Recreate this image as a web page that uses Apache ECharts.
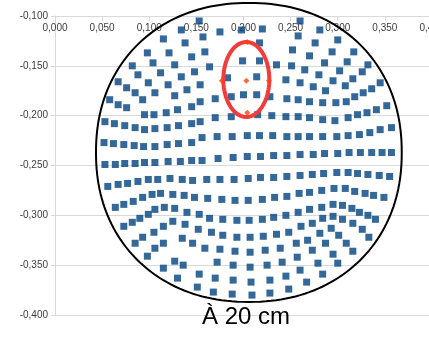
<!DOCTYPE html>
<html>
<head>
<meta charset="utf-8">
<script src="https://cdn.jsdelivr.net/npm/echarts@6/dist/echarts.min.js"></script>
<style>
html, body { margin: 0; padding: 0; background: #fff; }
#chart { width: 429px; height: 341px; }
</style>
</head>
<body>
<div id="chart"></div>
<script>
// axis ranges [min, max, step]
const xRange = [0, 0.4, 0.05];
const yRange = [-0.4, -0.1, 0.05];

const spotsTop = [
  [0.173, -0.099], [0.241, -0.099], [0.153, -0.105], [0.260, -0.105],
  [0.134, -0.114], [0.175, -0.116], [0.198, -0.114], [0.220, -0.113], [0.281, -0.114],
  [0.157, -0.121], [0.258, -0.120], [0.115, -0.123], [0.300, -0.124],
  [0.138, -0.127], [0.217, -0.127], [0.276, -0.127],
  [0.098, -0.137], [0.121, -0.137], [0.159, -0.136], [0.252, -0.134], [0.294, -0.136], [0.317, -0.136],
  [0.145, -0.141], [0.270, -0.140]
];
const spotsUpper = [
  [0.082, -0.150], [0.104, -0.147], [0.127, -0.149], [0.148, -0.156],
  [0.067, -0.166], [0.088, -0.159], [0.112, -0.157], [0.134, -0.161],
  [0.099, -0.167], [0.120, -0.169], [0.140, -0.174], [0.154, -0.169],
  [0.076, -0.172], [0.085, -0.177], [0.106, -0.177],
  [0.164, -0.151], [0.199, -0.145], [0.217, -0.145], [0.235, -0.149], [0.251, -0.150],
  [0.183, -0.162], [0.214, -0.161], [0.245, -0.164], [0.260, -0.167],
  [0.286, -0.147], [0.310, -0.146], [0.332, -0.149],
  [0.265, -0.154], [0.280, -0.159], [0.302, -0.155], [0.326, -0.156],
  [0.274, -0.171], [0.295, -0.165], [0.316, -0.163], [0.345, -0.167],
  [0.287, -0.175], [0.308, -0.170]
];
const spotsMidUpper = [
  [0.093, -0.184], [0.127, -0.180],
  [0.058, -0.184], [0.067, -0.189], [0.076, -0.192], [0.095, -0.199], [0.105, -0.199],
  [0.118, -0.197], [0.130, -0.194], [0.145, -0.191],
  [0.053, -0.206], [0.063, -0.208], [0.074, -0.210], [0.085, -0.212], [0.095, -0.214],
  [0.106, -0.213], [0.119, -0.212], [0.131, -0.210], [0.145, -0.208],
  [0.052, -0.227], [0.062, -0.228], [0.073, -0.229], [0.084, -0.230], [0.094, -0.231],
  [0.106, -0.231], [0.119, -0.229], [0.131, -0.228], [0.145, -0.227],
  [0.154, -0.186], [0.170, -0.183], [0.187, -0.181], [0.200, -0.179], [0.214, -0.179],
  [0.228, -0.181], [0.246, -0.183], [0.258, -0.184],
  [0.154, -0.206], [0.170, -0.202], [0.187, -0.201], [0.215, -0.199], [0.230, -0.200],
  [0.245, -0.201], [0.258, -0.201],
  [0.156, -0.222], [0.172, -0.221], [0.188, -0.221], [0.204, -0.220], [0.217, -0.220],
  [0.231, -0.220], [0.246, -0.221], [0.258, -0.221],
  [0.270, -0.186], [0.284, -0.187], [0.298, -0.187], [0.309, -0.186], [0.318, -0.181],
  [0.327, -0.177], [0.336, -0.173],
  [0.270, -0.202], [0.284, -0.204], [0.297, -0.205], [0.311, -0.202], [0.321, -0.199],
  [0.331, -0.197], [0.341, -0.194], [0.352, -0.190],
  [0.270, -0.221], [0.284, -0.221], [0.299, -0.221], [0.311, -0.220], [0.323, -0.219],
  [0.334, -0.217], [0.345, -0.214], [0.357, -0.212]
];
const spotsMiddle = [
  [0.053, -0.249], [0.064, -0.249], [0.074, -0.248], [0.085, -0.248], [0.095, -0.247],
  [0.106, -0.247], [0.120, -0.246], [0.133, -0.246], [0.145, -0.245], [0.156, -0.245],
  [0.173, -0.243], [0.189, -0.242], [0.204, -0.241], [0.218, -0.241], [0.232, -0.240],
  [0.246, -0.240], [0.260, -0.239], [0.274, -0.239], [0.286, -0.238], [0.300, -0.238],
  [0.312, -0.237], [0.324, -0.237], [0.336, -0.237], [0.347, -0.237], [0.357, -0.237],
  [0.056, -0.271], [0.067, -0.269], [0.077, -0.268], [0.088, -0.266], [0.099, -0.264],
  [0.109, -0.264], [0.122, -0.263], [0.135, -0.264], [0.146, -0.265], [0.161, -0.264],
  [0.175, -0.264], [0.190, -0.264], [0.205, -0.263], [0.218, -0.262], [0.232, -0.262],
  [0.246, -0.261], [0.260, -0.260], [0.273, -0.259], [0.285, -0.258], [0.299, -0.257],
  [0.311, -0.257], [0.321, -0.258], [0.332, -0.259], [0.344, -0.260], [0.355, -0.261]
];
const spotsLower = [
  [0.064, -0.292], [0.073, -0.289], [0.083, -0.286], [0.093, -0.282], [0.103, -0.279],
  [0.112, -0.278], [0.125, -0.279], [0.137, -0.280], [0.148, -0.282], [0.162, -0.283],
  [0.177, -0.284], [0.191, -0.285], [0.205, -0.285], [0.220, -0.284], [0.233, -0.282],
  [0.246, -0.281], [0.259, -0.278], [0.270, -0.277], [0.283, -0.275], [0.296, -0.273],
  [0.308, -0.273], [0.318, -0.276], [0.329, -0.278], [0.338, -0.280], [0.349, -0.282],
  [0.073, -0.311], [0.082, -0.307], [0.090, -0.303], [0.099, -0.299], [0.106, -0.294],
  [0.116, -0.292], [0.127, -0.293], [0.140, -0.297], [0.153, -0.299], [0.164, -0.303],
  [0.178, -0.304], [0.193, -0.305], [0.206, -0.305], [0.220, -0.304], [0.232, -0.302],
  [0.245, -0.300], [0.258, -0.297], [0.270, -0.294], [0.283, -0.292], [0.295, -0.289],
  [0.305, -0.290], [0.315, -0.293], [0.323, -0.297], [0.332, -0.300], [0.340, -0.304]
];
const spotsBottom = [
  [0.085, -0.328], [0.093, -0.322], [0.105, -0.317], [0.115, -0.311], [0.125, -0.306],
  [0.138, -0.309], [0.152, -0.314], [0.166, -0.317], [0.178, -0.320], [0.193, -0.322],
  [0.207, -0.322], [0.221, -0.321], [0.235, -0.319], [0.248, -0.317], [0.261, -0.311],
  [0.273, -0.308], [0.284, -0.303], [0.295, -0.301], [0.305, -0.304], [0.316, -0.308],
  [0.326, -0.314], [0.333, -0.322],
  [0.098, -0.341], [0.106, -0.333], [0.115, -0.328], [0.135, -0.323], [0.146, -0.328],
  [0.159, -0.333], [0.175, -0.334], [0.191, -0.336], [0.207, -0.337], [0.223, -0.335],
  [0.239, -0.333], [0.256, -0.328], [0.268, -0.325], [0.281, -0.318], [0.293, -0.313],
  [0.301, -0.320], [0.309, -0.328], [0.316, -0.336],
  [0.115, -0.353], [0.127, -0.346], [0.136, -0.350], [0.172, -0.347], [0.189, -0.350],
  [0.207, -0.352], [0.225, -0.350], [0.241, -0.347], [0.257, -0.342], [0.273, -0.335],
  [0.287, -0.328], [0.295, -0.339], [0.300, -0.348],
  [0.130, -0.363], [0.153, -0.359], [0.170, -0.363], [0.189, -0.365], [0.208, -0.367],
  [0.228, -0.365], [0.245, -0.361], [0.260, -0.355], [0.279, -0.348], [0.267, -0.367],
  [0.284, -0.359],
  [0.151, -0.372], [0.168, -0.377], [0.188, -0.379], [0.209, -0.380], [0.228, -0.378],
  [0.248, -0.374]
];
// reference spot and its neighbours (second series)
const spotsRef = [
  [0.203, -0.165], [0.204, -0.126], [0.204, -0.197], [0.177, -0.165], [0.227, -0.165]
];

// outlines drawn over the plot: centre and half sizes in axis units
const rimCenter = [0.2057, -0.2369];
const rimRadius = [0.1622, 0.150];
const ringCenter = [0.203, -0.1637];
const ringRadius = [0.0244, 0.0376];

const fmt = v => v.toFixed(3).replace('.', ',');
const gridColor = '#d9d9d9';
const labelStyle = { fontFamily: 'Liberation Sans', fontSize: 10, color: '#3c3c3c' };

const chart = echarts.init(document.getElementById('chart'));
chart.setOption({
  animation: false,
  backgroundColor: '#fff',
  title: {
    text: 'À 20 cm',
    left: 202,
    top: 305,
    padding: 0,
    textStyle: { fontFamily: 'Liberation Sans', fontSize: 24, fontWeight: 'normal', color: '#000' }
  },
  grid: { left: 55, top: 16, width: 377, height: 299, containLabel: false, outerBoundsMode: 'none' },
  xAxis: {
    type: 'value',
    position: 'top',
    min: xRange[0], max: xRange[1], interval: xRange[2],
    axisLine: { show: true, onZero: false, lineStyle: { color: gridColor } },
    axisTick: { show: true, inside: true, length: 5, lineStyle: { color: gridColor } },
    axisLabel: Object.assign({ inside: true, margin: 7, formatter: fmt }, labelStyle),
    splitLine: { show: false }
  },
  yAxis: {
    type: 'value',
    min: yRange[0], max: yRange[1], interval: yRange[2],
    axisLine: { show: true, onZero: false, lineStyle: { color: gridColor } },
    axisTick: { show: true, length: 4, lineStyle: { color: gridColor } },
    axisLabel: Object.assign({ margin: 7, formatter: fmt }, labelStyle),
    splitLine: { show: true, lineStyle: { color: gridColor } }
  },
  series: [
    {
      name: 'spots',
      type: 'scatter',
      symbol: 'rect',
      symbolSize: 7,
      itemStyle: { color: '#00427f' },
      data: spotsTop.concat(spotsUpper, spotsMidUpper, spotsMiddle, spotsLower, spotsBottom)
    },
    {
      name: 'ref',
      type: 'scatter',
      symbol: 'diamond',
      symbolSize: 6,
      z: 20,
      itemStyle: { color: '#ff420e' },
      data: spotsRef
    }
  ]
});

// outlines: positions go through the axes
function outline(center, radius, power, steps) {
  const c = chart.convertToPixel({ xAxisIndex: 0, yAxisIndex: 0 }, center);
  const e = chart.convertToPixel({ xAxisIndex: 0, yAxisIndex: 0 }, [center[0] + radius[0], center[1] - radius[1]]);
  const rx = e[0] - c[0], ry = e[1] - c[1];
  const pts = [];
  for (let i = 0; i < steps; i++) {
    const t = i / steps * Math.PI * 2;
    const ct = Math.cos(t), st = Math.sin(t);
    pts.push([
      c[0] + rx * Math.sign(ct) * Math.pow(Math.abs(ct), 2 / power),
      c[1] + ry * Math.sign(st) * Math.pow(Math.abs(st), 2 / power)
    ]);
  }
  return pts;
}

chart.setOption({
  graphic: [
    {
      type: 'polygon', z: 10, silent: true,
      shape: { points: outline(rimCenter, rimRadius, 2.15, 200) },
      style: { fill: 'none', stroke: '#000', lineWidth: 2 }
    },
    {
      type: 'polygon', z: 12, silent: true,
      shape: { points: outline(ringCenter, ringRadius, 2, 90) },
      style: { fill: 'none', stroke: '#f23b3b', lineWidth: 4 }
    }
  ]
});
</script>
</body>
</html>
